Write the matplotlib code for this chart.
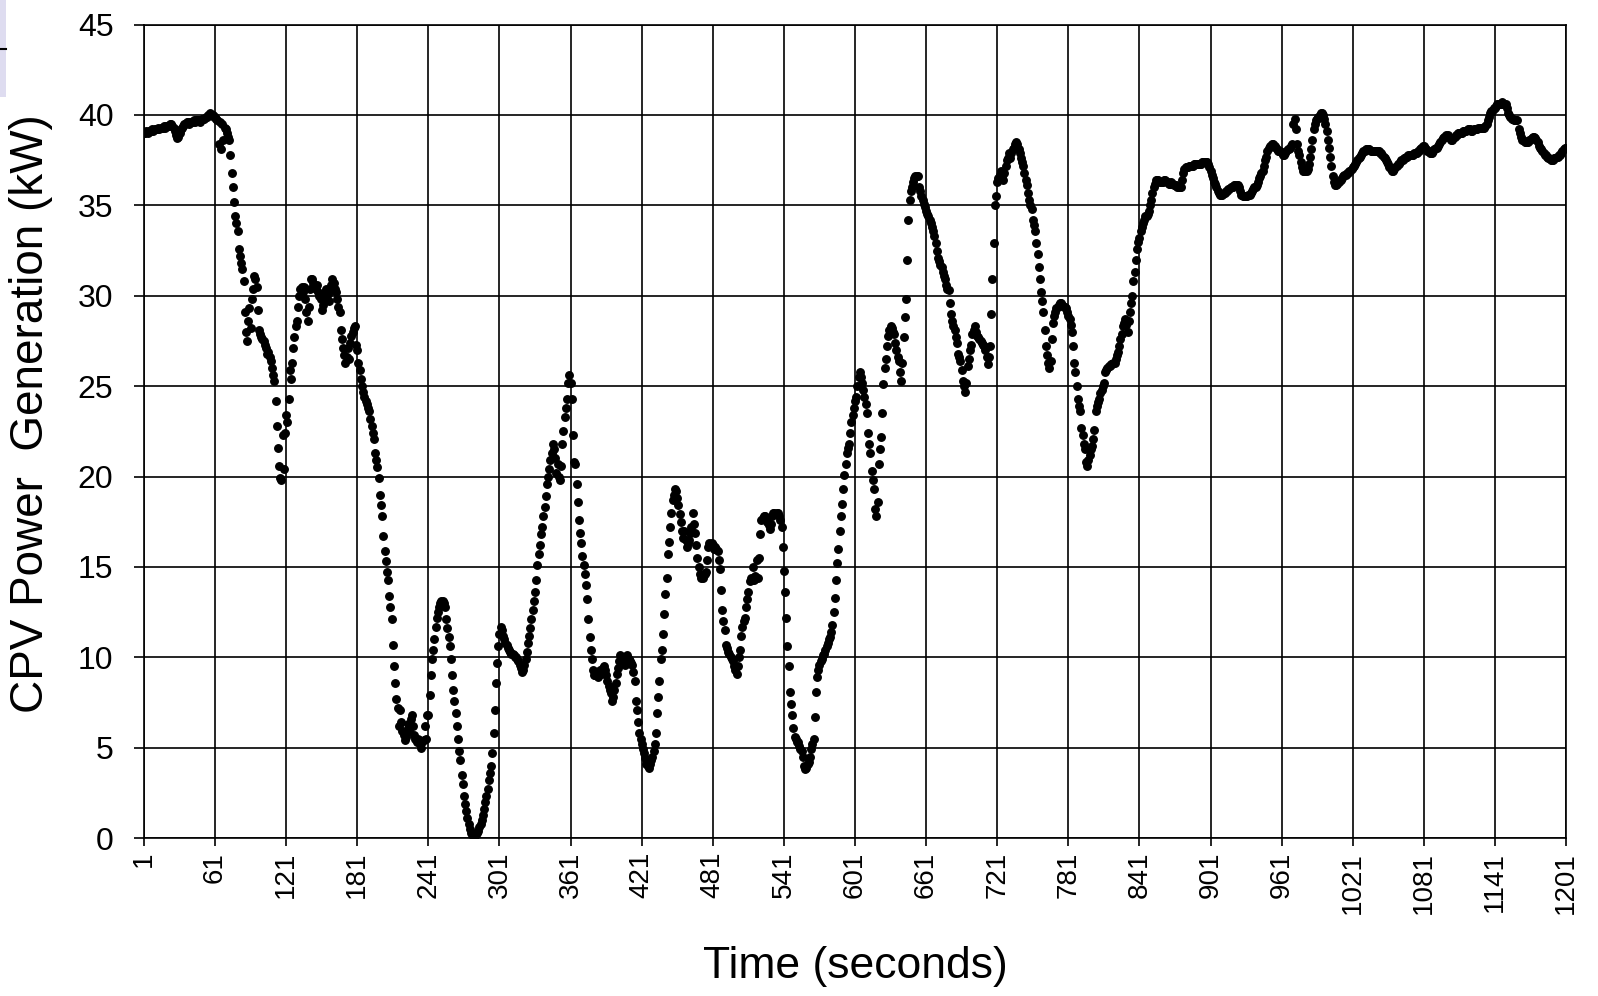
import matplotlib.pyplot as plt
from matplotlib.patches import Rectangle
import numpy as np

plt.rcParams['font.family'] = ['Liberation Sans', 'DejaVu Sans']

# CPV plant output, one sample per second (kW)
power_kw = [
    39.0, 39.0, 39.1, 39.0, 39.1, 39.1, 39.1, 39.2, 39.1, 39.2,
    39.2, 39.2, 39.3, 39.2, 39.3, 39.3, 39.3, 39.4, 39.3, 39.4,
    39.4, 39.4, 39.5, 39.5, 39.4, 39.3, 39.1, 38.9, 38.7, 38.8,
    39.0, 39.2, 39.3, 39.4, 39.5, 39.5, 39.6, 39.6, 39.5, 39.6,
    39.6, 39.6, 39.7, 39.6, 39.7, 39.7, 39.7, 39.6, 39.7, 39.8,
    39.8, 39.8, 39.9, 39.9, 40.0, 40.0, 40.1, 40.0, 40.0, 39.9,
    39.9, 39.8, 39.7, 38.4, 39.6, 38.1, 39.5, 38.6, 39.3, 39.2,
    39.0, 38.8, 38.6, 37.8, 36.8, 36.0, 35.2, 34.4, 34.0, 33.6,
    32.6, 32.2, 31.8, 31.5, 30.8, 29.1, 28.0, 27.5, 28.6, 29.3,
    28.2, 29.8, 30.4, 31.1, 30.9, 30.5, 29.2, 28.1, 27.9, 27.7,
    27.6, 27.5, 27.3, 27.1, 26.8, 26.9, 26.6, 26.4, 26.0, 25.6,
    25.3, 24.2, 22.8, 21.6, 20.6, 19.9, 19.8, 22.3, 20.4, 22.4,
    23.4, 23.0, 24.3, 25.9, 25.4, 26.3, 27.1, 27.7, 28.3, 28.6,
    29.4, 30.0, 30.4, 30.5, 30.2, 30.5, 29.8, 29.1, 28.6, 29.4,
    30.4, 30.9, 30.9, 30.7, 30.5, 30.4, 30.6, 30.2, 30.0, 29.8,
    29.2, 29.5, 29.9, 30.2, 30.4, 30.1, 29.7, 30.3, 30.6, 30.9,
    30.7, 30.4, 30.2, 29.8, 29.4, 29.1, 28.1, 27.6, 27.1, 26.7,
    26.3, 26.6, 27.1, 26.5, 27.4, 27.8, 28.0, 28.2, 28.3, 27.3,
    27.0, 26.3, 25.9, 25.4, 25.0, 24.7, 24.4, 24.2, 24.0, 23.8,
    23.6, 23.2, 22.8, 22.4, 22.1, 21.3, 20.9, 20.5, 19.9, 19.0,
    18.4, 17.8, 16.7, 15.9, 15.3, 14.7, 14.3, 13.4, 12.8, 12.1,
    10.7, 9.5, 8.6, 7.7, 7.2, 6.2, 7.1, 6.4, 5.9, 5.7,
    5.4, 5.6, 6.0, 6.3, 5.9, 6.6, 6.8, 6.2, 5.7, 5.5,
    5.3, 5.5, 5.4, 5.2, 5.0, 5.3, 5.4, 6.2, 5.5, 6.8,
    6.8, 7.9, 9.0, 9.9, 10.4, 11.0, 11.7, 12.2, 12.5, 12.8,
    13.0, 13.1, 13.1, 13.0, 12.8, 12.1, 11.6, 11.1, 10.6, 9.9,
    9.0, 8.2, 7.6, 6.9, 6.2, 5.5, 4.8, 4.3, 3.5, 3.0,
    2.3, 1.9, 1.5, 1.1, 0.8, 0.5, 0.3, 0.2, 0.1, 0.1,
    0.2, 0.3, 0.4, 0.6, 0.8, 1.0, 1.3, 1.6, 2.0, 2.3,
    2.7, 3.2, 3.6, 4.0, 4.7, 5.8, 7.1, 8.6, 9.7, 10.6,
    11.3, 11.7, 11.5, 11.2, 11.0, 10.8, 10.7, 10.5, 10.4, 10.3,
    10.2, 10.2, 10.1, 10.0, 10.0, 9.9, 9.8, 9.6, 9.4, 9.2,
    9.3, 9.6, 9.9, 10.3, 10.8, 11.2, 11.6, 12.1, 12.6, 13.1,
    13.6, 14.3, 15.1, 15.7, 16.2, 16.8, 17.2, 17.8, 18.3, 18.9,
    19.6, 20.0, 20.4, 20.9, 21.3, 21.8, 21.5, 21.0, 20.2, 20.7,
    20.0, 19.8, 20.6, 21.8, 22.5, 23.3, 23.8, 24.3, 25.2, 25.6,
    25.2, 24.3, 22.3, 20.8, 20.7, 19.6, 18.6, 17.6, 16.9, 16.3,
    15.6, 15.1, 14.6, 14.0, 13.2, 12.1, 11.1, 10.4, 9.9, 9.3,
    9.0, 9.0, 9.1, 8.9, 9.2, 9.3, 9.1, 9.4, 9.5, 9.3,
    9.0, 8.7, 8.4, 8.2, 8.0, 7.6, 7.8, 8.2, 8.6, 9.1,
    9.4, 9.8, 10.1, 9.9, 10.0, 9.8, 9.6, 9.9, 10.1, 9.9,
    9.8, 9.7, 9.6, 9.2, 8.7, 7.6, 7.1, 6.4, 5.8, 5.5,
    5.2, 4.9, 4.7, 4.4, 4.1, 4.0, 3.9, 4.1, 4.3, 4.5,
    4.8, 5.2, 5.8, 6.9, 7.8, 8.7, 9.9, 10.4, 11.3, 12.4,
    13.5, 14.4, 15.7, 16.4, 17.2, 18.0, 18.7, 19.0, 19.3, 19.2,
    18.8, 18.4, 17.9, 17.5, 17.0, 16.6, 17.0, 16.5, 16.1, 16.3,
    16.5, 16.9, 17.2, 18.0, 17.4, 16.9, 16.2, 15.5, 15.0, 14.6,
    14.4, 14.5, 14.4, 14.6, 14.7, 15.4, 16.1, 16.3, 16.2, 16.3,
    16.2, 16.0, 16.1, 16.0, 15.9, 15.4, 14.9, 13.7, 12.6, 12.0,
    11.5, 10.7, 10.5, 10.3, 10.2, 10.0, 9.9, 9.8, 9.5, 9.3,
    9.1, 9.5, 10.0, 10.4, 11.2, 11.7, 12.0, 12.2, 12.8, 13.2,
    13.6, 14.2, 14.4, 14.3, 15.0, 14.3, 14.5, 15.4, 14.4, 15.5,
    16.8, 17.6, 17.7, 17.8, 17.8, 17.6, 17.5, 17.3, 17.1, 17.4,
    17.8, 18.0, 18.0, 17.9, 18.0, 18.0, 17.8, 17.6, 17.2, 16.1,
    14.8, 13.6, 12.2, 10.6, 9.5, 8.1, 7.4, 6.8, 6.1, 5.6,
    5.5, 5.3, 5.3, 5.1, 4.9, 4.8, 4.5, 4.0, 3.8, 3.9,
    4.1, 4.2, 4.5, 4.9, 5.2, 5.5, 6.7, 8.1, 8.9, 9.3,
    9.6, 9.8, 9.9, 10.1, 10.2, 10.4, 10.6, 10.8, 11.0, 11.1,
    11.4, 11.8, 12.5, 13.3, 14.3, 15.2, 16.0, 17.0, 17.8, 18.5,
    19.3, 20.1, 20.7, 21.3, 21.6, 21.8, 22.4, 23.0, 23.4, 23.8,
    24.2, 24.4, 25.0, 25.5, 25.8, 25.5, 25.2, 24.8, 24.4, 24.0,
    23.5, 22.4, 21.8, 21.3, 20.3, 19.8, 19.3, 18.2, 17.8, 18.6,
    20.7, 21.5, 22.2, 23.5, 25.1, 26.0, 26.5, 27.2, 27.8, 28.1,
    28.3, 28.2, 28.0, 27.9, 27.4, 27.0, 26.6, 26.4, 25.8, 25.3,
    26.3, 27.7, 28.8, 29.8, 32.0, 34.2, 35.3, 35.8, 36.0, 36.3,
    36.5, 36.6, 36.6, 36.6, 36.0, 35.8, 35.5, 35.3, 35.1, 34.9,
    34.7, 34.5, 34.4, 34.2, 34.0, 33.8, 33.6, 33.3, 32.9, 32.5,
    32.1, 31.9, 31.7, 31.6, 31.3, 31.1, 30.9, 30.6, 30.4, 30.3,
    29.6, 29.0, 28.6, 28.3, 28.1, 27.7, 27.4, 26.8, 26.6, 26.4,
    25.9, 25.3, 25.0, 24.7, 25.2, 26.1, 26.5, 27.0, 27.3, 27.9,
    28.1, 28.3, 28.0, 27.8, 27.7, 27.6, 27.5, 27.4, 27.3, 27.2,
    27.0, 26.6, 26.2, 26.6, 27.2, 29.0, 30.9, 32.9, 35.0, 35.5,
    36.3, 36.5, 36.7, 36.9, 36.6, 36.4, 36.8, 37.2, 37.5, 37.6,
    37.9, 37.6, 37.9, 38.1, 38.2, 38.4, 38.5, 38.4, 38.1, 37.9,
    37.6, 37.4, 37.2, 36.8, 36.4, 36.1, 35.7, 35.3, 35.0, 34.8,
    34.2, 33.9, 33.6, 32.9, 32.3, 31.6, 30.9, 30.2, 29.7, 29.1,
    28.1, 27.2, 26.7, 26.3, 26.0, 26.4, 27.6, 28.5, 28.9, 29.1,
    29.3, 29.4, 29.5, 29.6, 29.6, 29.5, 29.4, 29.4, 29.3, 29.1,
    28.9, 28.7, 28.4, 28.0, 27.2, 26.3, 25.8, 25.0, 24.3, 23.9,
    23.6, 22.7, 22.3, 21.8, 21.5, 20.8, 20.6, 20.9, 21.2, 21.5,
    21.7, 22.1, 22.6, 23.6, 23.9, 24.1, 24.3, 24.6, 24.8, 25.0,
    25.2, 25.8, 25.9, 26.0, 26.1, 26.1, 26.2, 26.2, 26.3, 26.3,
    26.5, 26.7, 26.9, 27.2, 27.6, 27.9, 28.3, 28.5, 28.7, 28.4,
    28.0, 28.6, 29.1, 29.6, 30.0, 30.8, 31.3, 32.0, 32.6, 33.0,
    33.2, 33.6, 33.8, 34.0, 34.2, 34.4, 34.4, 34.5, 34.7, 35.0,
    35.3, 35.7, 36.0, 36.2, 36.4, 36.4, 36.4, 36.3, 36.3, 36.3,
    36.3, 36.4, 36.4, 36.3, 36.3, 36.2, 36.2, 36.3, 36.2, 36.1,
    36.1, 36.1, 36.0, 36.0, 36.0, 36.0, 36.4, 36.8, 37.0, 37.1,
    37.1, 37.1, 37.2, 37.2, 37.2, 37.2, 37.3, 37.3, 37.3, 37.3,
    37.3, 37.3, 37.3, 37.4, 37.4, 37.4, 37.4, 37.4, 37.3, 37.1,
    36.9, 36.7, 36.5, 36.3, 36.2, 36.0, 35.8, 35.7, 35.6, 35.6,
    35.6, 35.7, 35.7, 35.8, 35.8, 35.9, 35.9, 36.0, 36.0, 36.0,
    36.1, 36.1, 36.1, 36.1, 36.0, 35.8, 35.6, 35.5, 35.5, 35.5,
    35.5, 35.5, 35.6, 35.6, 35.7, 35.8, 35.9, 36.0, 36.0, 36.1,
    36.3, 36.5, 36.6, 36.8, 36.9, 37.2, 37.5, 37.7, 38.0, 38.2,
    38.3, 38.3, 38.4, 38.4, 38.3, 38.2, 38.1, 38.0, 38.0, 38.0,
    37.9, 37.8, 37.8, 37.9, 38.0, 38.1, 38.1, 38.2, 38.3, 38.4,
    39.5, 39.8, 39.2, 38.4, 38.0, 37.8, 37.4, 37.1, 36.9, 36.9,
    36.9, 36.9, 37.0, 37.3, 37.7, 38.1, 38.6, 39.2, 39.5, 39.7,
    39.8, 39.9, 40.0, 40.1, 40.1, 40.0, 39.8, 39.5, 39.1, 38.6,
    38.2, 37.7, 37.2, 36.6, 36.3, 36.1, 36.1, 36.2, 36.3, 36.4,
    36.4, 36.5, 36.6, 36.7, 36.7, 36.8, 36.8, 36.9, 36.9, 37.0,
    37.1, 37.2, 37.3, 37.4, 37.5, 37.6, 37.7, 37.8, 37.9, 38.0,
    38.0, 38.1, 38.1, 38.1, 38.1, 38.0, 38.0, 38.0, 38.0, 38.0,
    38.0, 38.0, 38.0, 37.9, 37.9, 37.8, 37.7, 37.6, 37.5, 37.4,
    37.3, 37.1, 37.0, 36.9, 36.9, 37.0, 37.1, 37.2, 37.3, 37.3,
    37.4, 37.5, 37.5, 37.6, 37.6, 37.7, 37.7, 37.8, 37.8, 37.8,
    37.8, 37.8, 37.9, 37.9, 37.9, 38.0, 38.0, 38.1, 38.2, 38.3,
    38.3, 38.2, 38.1, 38.0, 38.0, 37.9, 37.9, 37.9, 38.0, 38.1,
    38.2, 38.2, 38.3, 38.4, 38.5, 38.6, 38.7, 38.8, 38.8, 38.9,
    38.9, 38.8, 38.7, 38.6, 38.6, 38.7, 38.8, 38.9, 38.9, 39.0,
    39.0, 39.0, 39.0, 39.1, 39.1, 39.1, 39.1, 39.2, 39.2, 39.2,
    39.1, 39.1, 39.2, 39.2, 39.2, 39.2, 39.3, 39.3, 39.3, 39.3,
    39.3, 39.3, 39.4, 39.5, 39.7, 39.9, 40.1, 40.2, 40.3, 40.4,
    40.4, 40.5, 40.6, 40.6, 40.6, 40.6, 40.7, 40.6, 40.6, 40.6,
    40.4, 40.1, 40.0, 39.9, 39.8, 39.8, 39.7, 39.7, 39.7, 39.7,
    39.2, 39.0, 38.8, 38.6, 38.6, 38.5, 38.5, 38.5, 38.5, 38.6,
    38.6, 38.7, 38.8, 38.8, 38.7, 38.6, 38.5, 38.3, 38.2, 38.1,
    38.0, 37.9, 37.8, 37.8, 37.7, 37.6, 37.6, 37.5, 37.5, 37.5,
    37.6, 37.6, 37.7, 37.7, 37.8, 37.8, 37.9, 38.0, 38.1, 38.2, 38.2,
]
time_s = np.arange(1, len(power_kw) + 1)

x_ticks = list(range(1, 1202, 60))
y_ticks = list(range(0, 46, 5))

fig = plt.figure(figsize=(15.98, 9.96), dpi=100)
ax = fig.add_axes([0.0901, 0.1586, 0.8899, 0.8167])

ax.plot(time_s, power_kw, linestyle='none', marker='o', markersize=5.4,
        color='black', zorder=3)

ax.set_xlim(1, 1201)
ax.set_ylim(0, 45)
ax.set_xticks(x_ticks)
ax.set_xticklabels([str(t) for t in x_ticks], rotation=90, fontsize=20)
ax.set_yticks(y_ticks)
ax.set_yticklabels([str(v) for v in y_ticks], fontsize=23)
ax.tick_params(axis='x', direction='out', length=6, width=1.2, color='black', pad=4)
ax.tick_params(axis='y', direction='out', length=7, width=1.2, color='black', pad=15)

ax.grid(True, color='black', linewidth=1.2)
ax.set_axisbelow(True)
for side in ax.spines.values():
    side.set_color('black')
    side.set_linewidth(1.2)

ax.set_xlabel('Time (seconds)', fontsize=32)
ax.xaxis.set_label_coords(0.5, -0.133)
ax.set_ylabel('CPV Power  Generation (kW)', fontsize=33)
ax.yaxis.set_label_coords(-0.064, 0.522)

# slide edge strip at the top left
fig.patches.append(Rectangle((0, 0.903), 0.0035, 0.097, transform=fig.transFigure,
                             facecolor='#dedcf0', edgecolor='none'))
fig.lines.append(plt.Line2D([0, 0.0035], [0.951, 0.951], transform=fig.transFigure,
                            color='black', linewidth=1.5))

fig.savefig('out.png', dpi=100)
